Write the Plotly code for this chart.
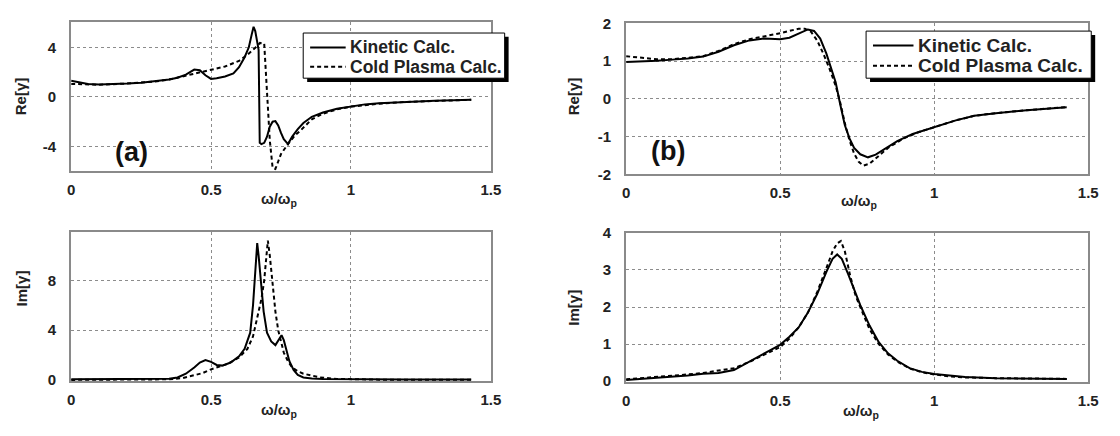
import plotly.graph_objects as go

# ---------------- data ----------------
# Panel (a) Re[gamma]
a_re_kin_x = [0, 0.03, 0.06, 0.1, 0.15, 0.2, 0.25, 0.3, 0.35, 0.38, 0.41, 0.44, 0.46, 0.48, 0.5, 0.52, 0.55, 0.58,
              0.6, 0.62, 0.635, 0.645, 0.652, 0.658, 0.664, 0.670, 0.674, 0.68, 0.69, 0.70, 0.71, 0.72, 0.73, 0.74,
              0.75, 0.76, 0.775, 0.79, 0.81, 0.83, 0.86, 0.9, 0.95, 1.0, 1.05, 1.1, 1.2, 1.3, 1.43]
a_re_kin_y = [1.3, 1.15, 1.05, 1.0, 1.02, 1.08, 1.15, 1.25, 1.4, 1.55, 1.8, 2.2, 2.15, 1.75, 1.45, 1.5, 1.65, 1.9,
              2.4, 3.2, 4.0, 5.0, 5.65, 5.3, 4.4, 3.8, -3.7, -3.8, -3.7, -3.2, -2.4, -2.0, -1.95, -2.3,
              -2.9, -3.4, -3.8, -3.2, -2.6, -2.1, -1.6, -1.25, -0.95, -0.75, -0.6, -0.5, -0.38, -0.3, -0.23]
a_re_cold_x = [0, 0.05, 0.1, 0.2, 0.3, 0.35, 0.4, 0.45, 0.5, 0.55, 0.6, 0.63, 0.66, 0.675, 0.69, 0.695, 0.70, 0.71,
               0.72, 0.73, 0.74, 0.75, 0.775, 0.8, 0.82, 0.86, 0.9, 0.95, 1.0, 1.1, 1.2, 1.3, 1.43]
a_re_cold_y = [1.05, 1.0, 0.98, 1.08, 1.25, 1.4, 1.65, 1.95, 2.15, 2.45, 2.9, 3.4, 4.0, 4.35, 4.3, 2.5, 0.0, -3.5,
               -5.7, -5.8, -5.2, -4.6, -3.8, -3.1, -2.7, -1.8, -1.35, -1.0, -0.78, -0.55, -0.4, -0.3, -0.23]

# Panel (a) Im[gamma]
a_im_kin_x = [0, 0.1, 0.2, 0.3, 0.35, 0.38, 0.41, 0.44, 0.46, 0.48, 0.5, 0.52, 0.54, 0.57, 0.6, 0.62, 0.64, 0.65,
              0.658, 0.665, 0.67, 0.678, 0.688, 0.7, 0.715, 0.73, 0.745, 0.752, 0.76, 0.77, 0.78, 0.795, 0.81,
              0.83, 0.86, 0.9, 1.0, 1.1, 1.2, 1.3, 1.43]
a_im_kin_y = [0.05, 0.05, 0.05, 0.07, 0.1, 0.2, 0.5, 1.0, 1.4, 1.6, 1.45, 1.2, 1.15, 1.4, 1.9, 2.5, 3.8, 6.0,
              9.0, 11.0, 10.0, 8.0, 5.5, 3.8, 3.1, 2.8, 3.3, 3.6, 3.2, 2.3, 1.5, 0.8, 0.4,
              0.2, 0.12, 0.08, 0.05, 0.04, 0.03, 0.03, 0.03]
a_im_cold_x = [0, 0.1, 0.2, 0.3, 0.35, 0.4, 0.44, 0.47, 0.5, 0.53, 0.56, 0.6, 0.63, 0.65, 0.665, 0.68, 0.69, 0.697,
               0.703, 0.71, 0.72, 0.73, 0.74, 0.75, 0.76, 0.775, 0.79, 0.81, 0.83, 0.86, 0.89, 0.95, 1.0, 1.1,
               1.2, 1.3, 1.43]
a_im_cold_y = [0.0, 0.0, 0.0, 0.02, 0.05, 0.15, 0.35, 0.55, 0.85, 1.05, 1.3, 1.8, 2.5, 3.5, 5.0, 6.5, 8.0, 9.8,
               11.2, 10.0, 7.6, 5.5, 4.0, 3.0, 2.2, 1.5, 1.0, 0.7, 0.5, 0.35, 0.2, 0.08, 0.04, 0.02,
               0.01, 0.01, 0.01]

# Panel (b) Re[gamma]
b_re_kin_x = [0, 0.05, 0.1, 0.15, 0.2, 0.25, 0.3, 0.35, 0.4, 0.45, 0.5, 0.53, 0.56, 0.59, 0.61, 0.63, 0.65, 0.665,
              0.68, 0.695, 0.71, 0.725, 0.74, 0.76, 0.785, 0.81, 0.84, 0.88, 0.93, 1.0, 1.07, 1.13, 1.2, 1.3, 1.43]
b_re_kin_y = [0.98, 0.99, 1.01, 1.04, 1.07, 1.12, 1.25, 1.42, 1.55, 1.6, 1.58, 1.62, 1.74, 1.84, 1.8, 1.6, 1.2, 0.85,
              0.44, -0.15, -0.7, -1.05, -1.3, -1.47, -1.55, -1.48, -1.33, -1.12, -0.93, -0.75, -0.57, -0.45,
              -0.38, -0.3, -0.22]
b_re_cold_x = [0, 0.05, 0.1, 0.15, 0.2, 0.25, 0.3, 0.35, 0.4, 0.45, 0.5, 0.53, 0.56, 0.58, 0.6, 0.62, 0.64, 0.66,
               0.68, 0.695, 0.71, 0.725, 0.74, 0.755, 0.77, 0.79, 0.82, 0.85, 0.9, 0.95, 1.0, 1.07, 1.13, 1.2,
               1.3, 1.43]
b_re_cold_y = [1.13, 1.08, 1.05, 1.05, 1.08, 1.13, 1.27, 1.45, 1.58, 1.65, 1.74, 1.8, 1.86, 1.86, 1.78, 1.55, 1.2,
               0.8, 0.35, -0.1, -0.65, -1.1, -1.45, -1.67, -1.77, -1.72, -1.5, -1.3, -1.05, -0.88, -0.75,
               -0.57, -0.45, -0.38, -0.3, -0.22]

# Panel (b) Im[gamma]
b_im_kin_x = [0, 0.05, 0.1, 0.15, 0.2, 0.25, 0.3, 0.35, 0.4, 0.45, 0.5, 0.53, 0.56, 0.59, 0.62, 0.65, 0.67, 0.685,
              0.7, 0.72, 0.74, 0.76, 0.79, 0.82, 0.85, 0.88, 0.92, 0.96, 1.0, 1.05, 1.1, 1.2, 1.3, 1.43]
b_im_kin_y = [0.03, 0.06, 0.1, 0.12, 0.15, 0.2, 0.22, 0.3, 0.52, 0.75, 0.98, 1.2, 1.45, 1.85, 2.35, 2.95, 3.3, 3.42,
              3.3, 2.9, 2.45, 2.05, 1.5, 1.05, 0.75, 0.55, 0.35, 0.25, 0.19, 0.14, 0.11, 0.08, 0.07, 0.06]
b_im_cold_x = [0, 0.05, 0.1, 0.15, 0.2, 0.25, 0.3, 0.35, 0.4, 0.45, 0.5, 0.53, 0.56, 0.59, 0.62, 0.65, 0.67, 0.685,
               0.697, 0.71, 0.727, 0.745, 0.77, 0.79, 0.82, 0.85, 0.88, 0.92, 0.96, 1.0, 1.05, 1.1, 1.2, 1.3, 1.43]
b_im_cold_y = [0.05, 0.08, 0.11, 0.14, 0.18, 0.22, 0.28, 0.35, 0.52, 0.72, 0.92, 1.15, 1.45, 1.85, 2.4, 3.05, 3.5,
               3.72, 3.78, 3.5, 2.85, 2.3, 1.8, 1.4, 1.0, 0.72, 0.53, 0.34, 0.24, 0.18, 0.13, 0.1, 0.08, 0.07, 0.06]

x_ticks = [0, 0.5, 1, 1.5]
x_tick_text = ["0", "0.5", "1", "1.5"]
a_re_ticks = [-4, 0, 4]
a_im_ticks = [0, 4, 8]
b_re_ticks = [-2, -1, 0, 1, 2]
b_im_ticks = [0, 1, 2, 3, 4]

series_names = ["Kinetic Calc.", "Cold Plasma Calc."]

# ---------------- figure ----------------
W, H = 1120, 436
FONT = "Liberation Sans, Arial, sans-serif"
KIN_LINE = dict(color="black", width=2)
COLD_LINE = dict(color="black", width=2, dash="4px,3px")


def px(x):
    return x / W


def py(y):
    return 1 - y / H


def labels(vals):
    return [("-" + str(abs(v))) if v < 0 else str(v) for v in vals]


fig = go.Figure()

panels = [
    ("", a_re_kin_x, a_re_kin_y, a_re_cold_x, a_re_cold_y),
    ("2", b_re_kin_x, b_re_kin_y, b_re_cold_x, b_re_cold_y),
    ("3", a_im_kin_x, a_im_kin_y, a_im_cold_x, a_im_cold_y),
    ("4", b_im_kin_x, b_im_kin_y, b_im_cold_x, b_im_cold_y),
]

for suf, kx, ky, cx, cy in panels:
    fig.add_trace(go.Scatter(x=kx, y=ky, mode="lines", name=series_names[0], line=KIN_LINE,
                             xaxis="x" + suf, yaxis="y" + suf, showlegend=False))
    fig.add_trace(go.Scatter(x=cx, y=cy, mode="lines", name=series_names[1], line=COLD_LINE,
                             xaxis="x" + suf, yaxis="y" + suf, showlegend=False))

tickfont = dict(family=FONT, size=15, color="#222", weight="bold")
axis_common = dict(showline=True, mirror=True, linecolor="#8a8a8a", linewidth=2,
                   showgrid=True, gridcolor="#8c8c8c", griddash="dot", gridwidth=1,
                   zeroline=False, ticks="", tickfont=tickfont, fixedrange=True)

xa = dict(range=[0, 1.5], tickvals=x_ticks, ticktext=x_tick_text, ticklabelstandoff=4, **axis_common)
ya = dict(ticklabelstandoff=10, **axis_common)

dom_x_a = [px(68), px(493)]
dom_x_b = [px(630), px(1098)]

fig.update_layout(
    width=W, height=H,
    margin=dict(l=0, r=0, t=0, b=0),
    paper_bgcolor="white", plot_bgcolor="white",
    showlegend=False,
    xaxis=dict(domain=dom_x_a, anchor="y", **xa),
    yaxis=dict(domain=[py(169), py(14)], anchor="x", range=[-6, 6], tickvals=a_re_ticks,
               ticktext=labels(a_re_ticks), **ya),
    xaxis2=dict(domain=dom_x_b, anchor="y2", **xa),
    yaxis2=dict(domain=[py(172), py(15)], anchor="x2", range=[-2, 2], tickvals=b_re_ticks,
                ticktext=labels(b_re_ticks), **ya),
    xaxis3=dict(domain=dom_x_a, anchor="y3", **xa),
    yaxis3=dict(domain=[py(387), py(232)], anchor="x3", range=[-0.08, 11.9], tickvals=a_im_ticks,
                ticktext=labels(a_im_ticks), **ya),
    xaxis4=dict(domain=dom_x_b, anchor="y4", **xa),
    yaxis4=dict(domain=[py(388), py(233)], anchor="x4", range=[-0.02, 4], tickvals=b_im_ticks,
                ticktext=labels(b_im_ticks), **ya),
)

# ---- legend boxes (drawn as box + shadow + key lines + text) ----
ann = []
legends = [
    # box left, top, right, bottom, sample x0, x1, row y's, text x, font size
    (303, 25, 507, 72, 310, 346, (40, 60), 348, 17.5),
    (873, 23, 1101, 72, 880, 921, (38, 59), 924, 19),
]
for (l, t, r, b, sx0, sx1, rows, tx, fs) in legends:
    fig.add_shape(type="rect", xref="paper", yref="paper", x0=px(l + 4), x1=px(r + 4), y0=py(b + 4), y1=py(t + 4),
                  fillcolor="black", line=dict(width=0), layer="above")
    fig.add_shape(type="rect", xref="paper", yref="paper", x0=px(l), x1=px(r), y0=py(b), y1=py(t),
                  fillcolor="white", line=dict(color="black", width=1), layer="above")
    for ry, style, name in zip(rows, (KIN_LINE, COLD_LINE), series_names):
        fig.add_shape(type="line", xref="paper", yref="paper", x0=px(sx0), x1=px(sx1), y0=py(ry), y1=py(ry),
                      line=style, layer="above")
        ann.append(dict(x=px(tx), y=py(ry), xref="paper", yref="paper", text="<b>%s</b>" % name,
                        showarrow=False, xanchor="left", yanchor="middle",
                        font=dict(family=FONT, size=fs, color="#222", weight="bold")))

title_font = dict(family=FONT, size=15, color="#222", weight="bold")
for (x, y, t) in [(17, 91, "Re[γ]"), (18, 291, "Im[γ]"), (577, 91, "Re[γ]"), (577, 311, "Im[γ]")]:
    ann.append(dict(x=px(x), y=py(y), xref="paper", yref="paper", text="<b>%s</b>" % t,
                    textangle=-90, showarrow=False, font=title_font, xanchor="center", yanchor="middle"))
for (x, y) in [(278, 198), (278, 418), (866, 200), (868, 419)]:
    ann.append(dict(x=px(x), y=py(y), xref="paper", yref="paper", text="<b>ω/ω<sub>p</sub></b>",
                    showarrow=False, font=title_font, xanchor="center", yanchor="middle"))
ann.append(dict(x=px(110), y=py(149), xref="paper", yref="paper", text="<b>(a)</b>", showarrow=False,
                font=dict(family=FONT, size=27, color="#111", weight="bold")))
ann.append(dict(x=px(672), y=py(148), xref="paper", yref="paper", text="<b>(b)</b>", showarrow=False,
                font=dict(family=FONT, size=27, color="#111", weight="bold")))
fig.update_layout(annotations=ann)

fig.write_html("out.html")
